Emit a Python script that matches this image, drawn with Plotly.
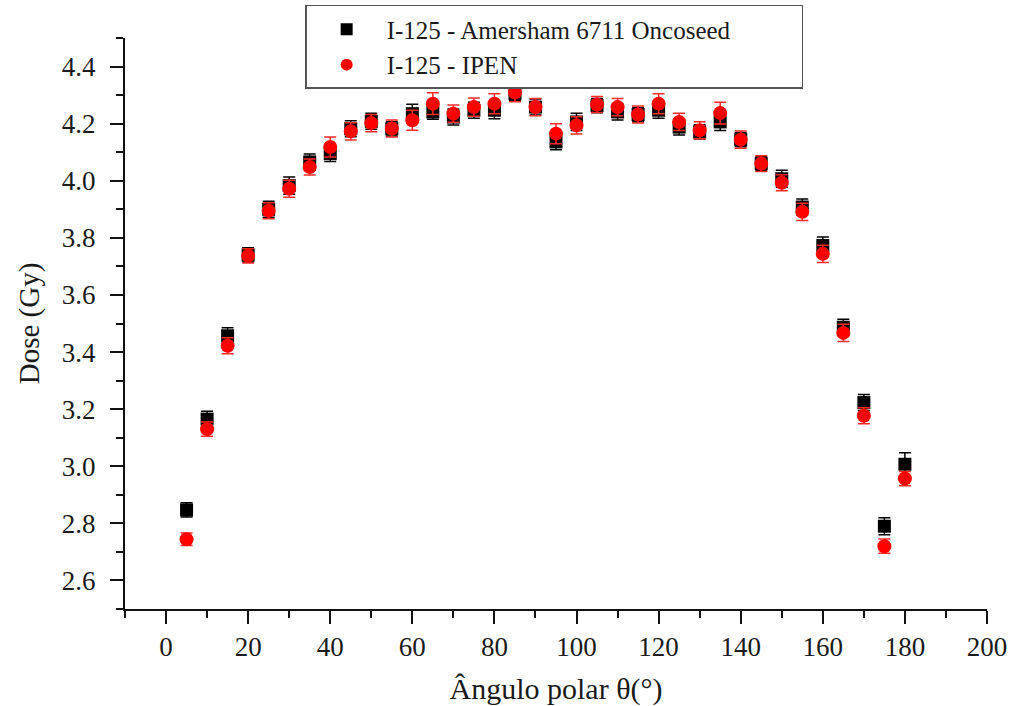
import plotly.graph_objects as go

# Polar angle (degrees)
angles = [5, 10, 15, 20, 25, 30, 35, 40, 45, 50, 55, 60, 65, 70, 75, 80, 85, 90,
          95, 100, 105, 110, 115, 120, 125, 130, 135, 140, 145, 150, 155, 160,
          165, 170, 175, 180]

# Dose (Gy) - I-125 Amersham 6711 Oncoseed
dose_amersham = [2.847, 3.165, 3.457, 3.740, 3.900, 3.983, 4.066, 4.095, 4.182,
                 4.208, 4.182, 4.235, 4.241, 4.223, 4.247, 4.247, 4.305, 4.258,
                 4.136, 4.206, 4.263, 4.241, 4.232, 4.247, 4.188, 4.171, 4.206,
                 4.144, 4.060, 4.007, 3.908, 3.773, 3.487, 3.223, 2.790, 3.007]
err_amersham = [0.025, 0.028, 0.028, 0.025, 0.028, 0.030, 0.028, 0.028, 0.028,
                0.028, 0.025, 0.033, 0.026, 0.028, 0.028, 0.030, 0.025, 0.028,
                0.027, 0.030, 0.025, 0.028, 0.025, 0.028, 0.028, 0.025, 0.030,
                0.025, 0.025, 0.030, 0.028, 0.030, 0.028, 0.028, 0.030, 0.040]

# Dose (Gy) - I-125 IPEN
dose_ipen = [2.744, 3.130, 3.422, 3.737, 3.895, 3.972, 4.048, 4.118, 4.173,
             4.202, 4.183, 4.212, 4.270, 4.235, 4.258, 4.270, 4.309, 4.258,
             4.165, 4.194, 4.267, 4.258, 4.232, 4.270, 4.206, 4.177, 4.237,
             4.144, 4.060, 3.993, 3.891, 3.744, 3.467, 3.177, 2.720, 2.957]
err_ipen = [0.022, 0.025, 0.028, 0.025, 0.028, 0.030, 0.028, 0.035, 0.030,
            0.030, 0.030, 0.035, 0.038, 0.030, 0.032, 0.035, 0.032, 0.030,
            0.035, 0.030, 0.028, 0.030, 0.030, 0.035, 0.030, 0.030, 0.038,
            0.030, 0.028, 0.028, 0.030, 0.030, 0.030, 0.028, 0.025, 0.025]

serif = "Liberation Serif, Times New Roman, serif"

fig = go.Figure()

fig.add_trace(go.Scatter(
    x=angles, y=dose_amersham, mode="markers",
    name="I-125 - Amersham 6711 Oncoseed",
    marker=dict(symbol="square", size=13, color="#000000"),
    error_y=dict(type="data", array=err_amersham, visible=True,
                 color="#000000", thickness=1.5, width=6),
))

fig.add_trace(go.Scatter(
    x=angles, y=dose_ipen, mode="markers",
    name="I-125 - IPEN",
    marker=dict(symbol="circle", size=14, color="#ff0000"),
    error_y=dict(type="data", array=err_ipen, visible=True,
                 color="#ff2a2a", thickness=1.5, width=6),
))

axis_common = dict(
    showline=True, linecolor="#111111", linewidth=2,
    ticks="outside", ticklen=13, tickwidth=2, tickcolor="#111111",
    showgrid=False, zeroline=False, mirror=False, automargin=False,
    tickfont=dict(family=serif, size=27, color="#1a1a1a"),
)

fig.update_xaxes(
    range=[-10, 200], tickmode="linear", tick0=0, dtick=20,
    minor=dict(ticks="outside", ticklen=7, tickwidth=2, tickcolor="#111111",
               dtick=10, tick0=0, showgrid=False),
    title=dict(text="Ângulo polar θ(°)", standoff=20,
               font=dict(family=serif, size=30, color="#1a1a1a")),
    **axis_common,
)

fig.update_yaxes(
    range=[2.5, 4.5], tickmode="array",
    tickvals=[2.6, 2.8, 3.0, 3.2, 3.4, 3.6, 3.8, 4.0, 4.2, 4.4],
    ticktext=["2.6", "2.8", "3.0", "3.2", "3.4", "3.6", "3.8", "4.0", "4.2", "4.4"],
    ticklabelstandoff=9,
    minor=dict(ticks="outside", ticklen=7, tickwidth=2, tickcolor="#111111",
               dtick=0.1, tick0=2.5, showgrid=False),
    title=dict(text="Dose (Gy)", standoff=14,
               font=dict(family=serif, size=29, color="#1a1a1a")),
    **axis_common,
)

fig.update_layout(
    width=1011, height=706,
    margin=dict(l=125, r=24, t=38, b=97, autoexpand=False),
    plot_bgcolor="white", paper_bgcolor="white",
    showlegend=True,
    legend=dict(
        orientation="h",
        x=0.209, y=1.058, xanchor="left", yanchor="top",
        bgcolor="white", bordercolor="#555555", borderwidth=1.5,
        font=dict(family=serif, size=25, color="#1a1a1a"),
        tracegroupgap=0, itemsizing="constant", itemwidth=70,
        entrywidth=410, entrywidthmode="pixels",
    ),
)

fig.write_html("out.html")
